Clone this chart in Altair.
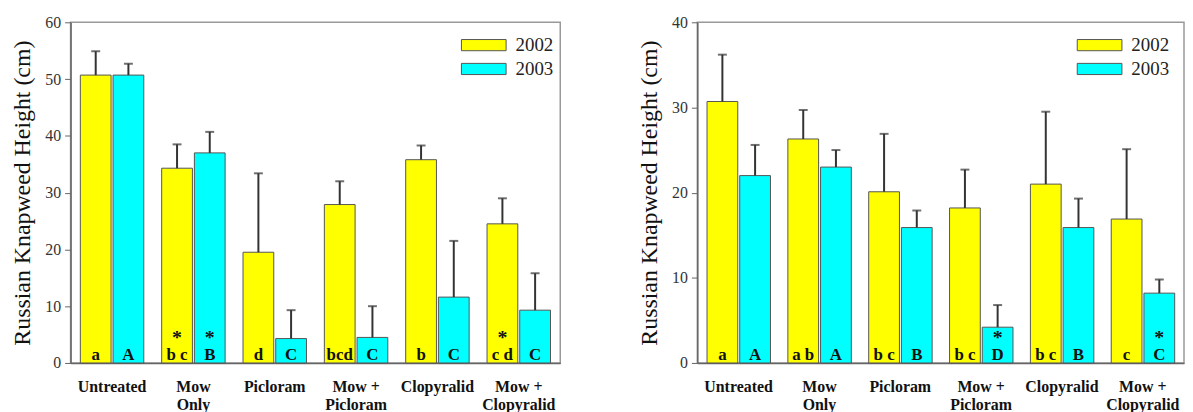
import altair as alt
import pandas as pd

treatments = ["Untreated", "Mow\nOnly", "Picloram", "Mow +\nPicloram", "Clopyralid", "Mow +\nClopyralid"]
years = ["2002", "2003"]

left_2002 = [50.7, 34.3, 19.5, 27.9, 35.8, 24.5]
left_2002_err = [4.2, 4.2, 13.9, 4.1, 2.5, 4.5]
left_2003 = [50.7, 37.0, 4.3, 4.5, 11.6, 9.3]
left_2003_err = [2.0, 3.7, 5.0, 5.5, 9.9, 6.5]
left_letters_2002 = ["a", "b c", "d", "bcd", "b", "c d"]
left_letters_2003 = ["A", "B", "C", "C", "C", "C"]
left_star_2002 = ["", "*", "", "", "", "*"]
left_star_2003 = ["", "*", "", "", "", ""]

right_2002 = [30.7, 26.3, 20.1, 18.2, 21.0, 16.9]
right_2002_err = [5.5, 3.4, 6.8, 4.5, 8.5, 8.2]
right_2003 = [22.0, 23.0, 15.9, 4.2, 15.9, 8.2]
right_2003_err = [3.6, 2.0, 2.0, 2.6, 3.4, 1.6]
right_letters_2002 = ["a", "a b", "b c", "b c", "b c", "c"]
right_letters_2003 = ["A", "A", "B", "D", "B", "C"]
right_star_2002 = ["", "", "", "", "", ""]
right_star_2003 = ["", "", "", "*", "", "*"]

SERIF = "Liberation Serif"


def make_df(v02, e02, v03, e03, l02, l03, s02, s03):
    rows = []
    for i, t in enumerate(treatments):
        rows.append(dict(treatment=t, year="2002", value=v02[i], upper=v02[i] + e02[i], letter=l02[i], star=s02[i]))
        rows.append(dict(treatment=t, year="2003", value=v03[i], upper=v03[i] + e03[i], letter=l03[i], star=s03[i]))
    return pd.DataFrame(rows)


def panel(df, ymax, ticks, lx, ly, w):
    base = alt.Chart(df).encode(
        x=alt.X(
            "treatment:N",
            sort=treatments,
            scale=alt.Scale(paddingInner=0.22, paddingOuter=0.12),
            axis=alt.Axis(
                title=None,
                labelExpr="split(datum.label, '\\n')",
                labelAngle=0,
                ticks=False,
                labelFont=SERIF,
                labelFontWeight="bold",
                labelFontSize=16,
                labelColor="#111",
                labelPadding=16,
                labelLineHeight=18,
                labelBaseline="top",
                domainColor="#666",
                domainWidth=1.5,
            ),
        ),
        xOffset=alt.XOffset("year:N", sort=years, scale=alt.Scale(paddingInner=0.06)),
    )
    yenc = alt.Y(
        "value:Q",
        scale=alt.Scale(domain=[0, ymax], nice=False),
        axis=alt.Axis(
            values=ticks,
            grid=False,
            title="Russian Knapweed Height (cm)",
            titleFont=SERIF,
            titleFontWeight="normal",
            titleFontSize=24,
            titleColor="#111",
            titlePadding=10,
            labelFont=SERIF,
            labelFontSize=16,
            labelColor="#333",
            labelPadding=4,
            tickSize=6,
            tickColor="#666",
            domainColor="#666",
            domainWidth=1.5,
        ),
    )
    bars = base.mark_bar(stroke="#555", strokeWidth=1).encode(
        y=yenc,
        color=alt.Color(
            "year:N",
            sort=years,
            scale=alt.Scale(domain=years, range=["#FFFF00", "#00FFFF"]),
            legend=alt.Legend(
                title=None,
                orient="none",
                legendX=lx,
                legendY=ly,
                symbolType="M-2,-0.5L2,-0.5L2,0.5L-2,0.5Z",
                symbolSize=506,
                symbolStrokeColor="#555",
                symbolStrokeWidth=1,
                labelFont=SERIF,
                labelFontSize=19,
                labelColor="#222",
                labelOffset=20,
                rowPadding=2,
                padding=0,
            ),
        ),
    )
    err = base.mark_rule(color="#333", strokeWidth=2).encode(y="value:Q", y2="upper:Q")
    cap = base.mark_tick(color="#333", thickness=2, size=9).encode(y="upper:Q")
    letters = base.mark_text(font=SERIF, fontWeight="bold", fontSize=17, color="#111", baseline="alphabetic", dy=-3).encode(
        y=alt.datum(0), text="letter:N"
    )
    stars = base.mark_text(font=SERIF, fontWeight="bold", fontSize=20, color="#111", baseline="alphabetic", dy=-19).encode(
        y=alt.datum(0), text="star:N"
    )
    return alt.layer(bars, err, cap, letters, stars).properties(width=w, height=343)


left_df = make_df(left_2002, left_2002_err, left_2003, left_2003_err, left_letters_2002, left_letters_2003, left_star_2002, left_star_2003)
right_df = make_df(right_2002, right_2002_err, right_2003, right_2003_err, right_letters_2002, right_letters_2003, right_star_2002, right_star_2003)

left = panel(left_df, 60, [0, 10, 20, 30, 40, 50, 60], 404, 11, 493)
right = panel(right_df, 40, [0, 10, 20, 30, 40], 393, 11, 490)

chart = (
    alt.hconcat(left, right, spacing=76)
    .resolve_scale(color="independent", y="independent")
    .resolve_legend(color="independent")
    .configure_view(stroke="#999", strokeWidth=1.5)
    .properties(padding={"left": 2, "top": 4, "right": 0, "bottom": 0}, background="white")
)

chart.save("out.html", embed_options={"renderer": "svg", "actions": False})
